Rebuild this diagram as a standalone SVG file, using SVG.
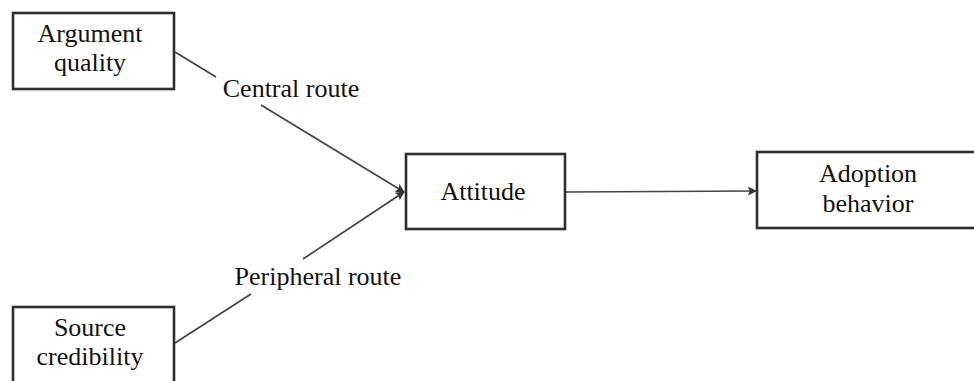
<svg xmlns="http://www.w3.org/2000/svg" width="974" height="381" viewBox="0 0 974 381">
  <style>
    .box { fill: #ffffff; stroke: #2e2e2e; stroke-width: 2.6; }
    .label { font-family: "Liberation Serif", "Times New Roman", serif; font-size: 26px; fill: #111111; text-anchor: middle; }
    .link { fill: none; stroke: #444444; stroke-width: 1.7; }
  </style>
  <defs>
    <marker id="arrow" viewBox="0 0 10 10" refX="9" refY="5" markerWidth="10" markerHeight="9" markerUnits="userSpaceOnUse" orient="auto">
      <path d="M0,0 L10,5 L0,10 L2,5 Z" fill="#333333"/>
    </marker>
  </defs>

  <rect width="974" height="381" fill="#ffffff"/>

  <g id="connectors">
    <!-- central route: broken around its label -->
    <path class="link" d="M175,52 L216,77 M261,105 L404,192" marker-end="url(#arrow)"/>
    <!-- peripheral route: broken around its label -->
    <path class="link" d="M175,343 L251,294 M303,259 L404,192" marker-end="url(#arrow)"/>
    <!-- attitude to adoption -->
    <path class="link" d="M566,192 L756,191" marker-end="url(#arrow)"/>
  </g>

  <g id="route-labels">
    <text class="label" x="291" y="97">Central route</text>
    <text class="label" x="318" y="285">Peripheral route</text>
  </g>

  <g id="argument-quality">
    <rect class="box" x="13" y="13" width="161" height="76"/>
    <text class="label" x="90" y="42">Argument</text>
    <text class="label" x="90" y="71">quality</text>
  </g>

  <g id="source-credibility">
    <rect class="box" x="13" y="307" width="161" height="78"/>
    <text class="label" x="90" y="336">Source</text>
    <text class="label" x="90" y="365">credibility</text>
  </g>

  <g id="attitude">
    <rect class="box" x="406" y="154" width="159" height="75"/>
    <text class="label" x="483" y="200">Attitude</text>
  </g>

  <g id="adoption-behavior">
    <rect class="box" x="757" y="152" width="224" height="76"/>
    <text class="label" x="868" y="182">Adoption</text>
    <text class="label" x="868" y="212">behavior</text>
  </g>
</svg>
